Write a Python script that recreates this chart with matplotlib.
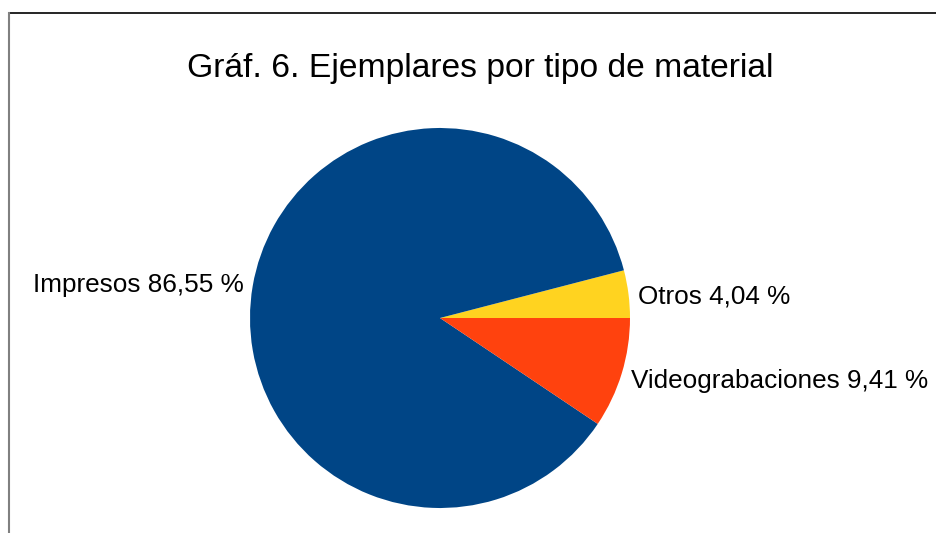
import matplotlib
matplotlib.use("Agg")
import matplotlib.pyplot as plt
from matplotlib.lines import Line2D

plt.rcParams['font.family'] = ['Liberation Sans', 'DejaVu Sans']

title = "Gráf. 6. Ejemplares por tipo de material"
categories = ["Otros", "Impresos", "Videograbaciones"]
values = [4.04, 86.55, 9.41]
colors = ["#ffd320", "#004586", "#ff420e"]

W, H = 936, 533
fig = plt.figure(figsize=(W / 100, H / 100), dpi=100)
fig.patch.set_facecolor("white")

cx, cy, r = 440, 318, 190
ax = fig.add_axes([(cx - r) / W, (H - cy - r) / H, 2 * r / W, 2 * r / H])
labels = [f"{c} {str(f'{v:.2f}').replace('.', ',')} %" for c, v in zip(categories, values)]
wedges, texts = ax.pie(values, labels=labels, colors=colors, startangle=0,
                       counterclock=True, radius=1.0, labeldistance=1.05,
                       textprops=dict(fontsize=18.8, color="black"))
# small vertical nudges of the labels (in pie radius units)
nudges = [-0.018, 0.0, -0.025]
for t, dy in zip(texts, nudges):
    x, y = t.get_position()
    t.set_position((x, y + dy))
ax.set_xlim(-1, 1)
ax.set_ylim(-1, 1)
ax.set_aspect("equal")
ax.axis("off")

fig.text(480 / W, 1 - 69 / H, title, ha="center", va="center", fontsize=24.2, color="black")

# frame lines
fig.add_artist(Line2D([9 / W, 1], [1 - 13 / H, 1 - 13 / H], color="black", lw=1.2,
                      transform=fig.transFigure))
fig.add_artist(Line2D([9 / W, 9 / W], [0, 1 - 13 / H], color="#808080", lw=1.5,
                      transform=fig.transFigure))

fig.savefig("out.png", dpi=100, facecolor="white")
